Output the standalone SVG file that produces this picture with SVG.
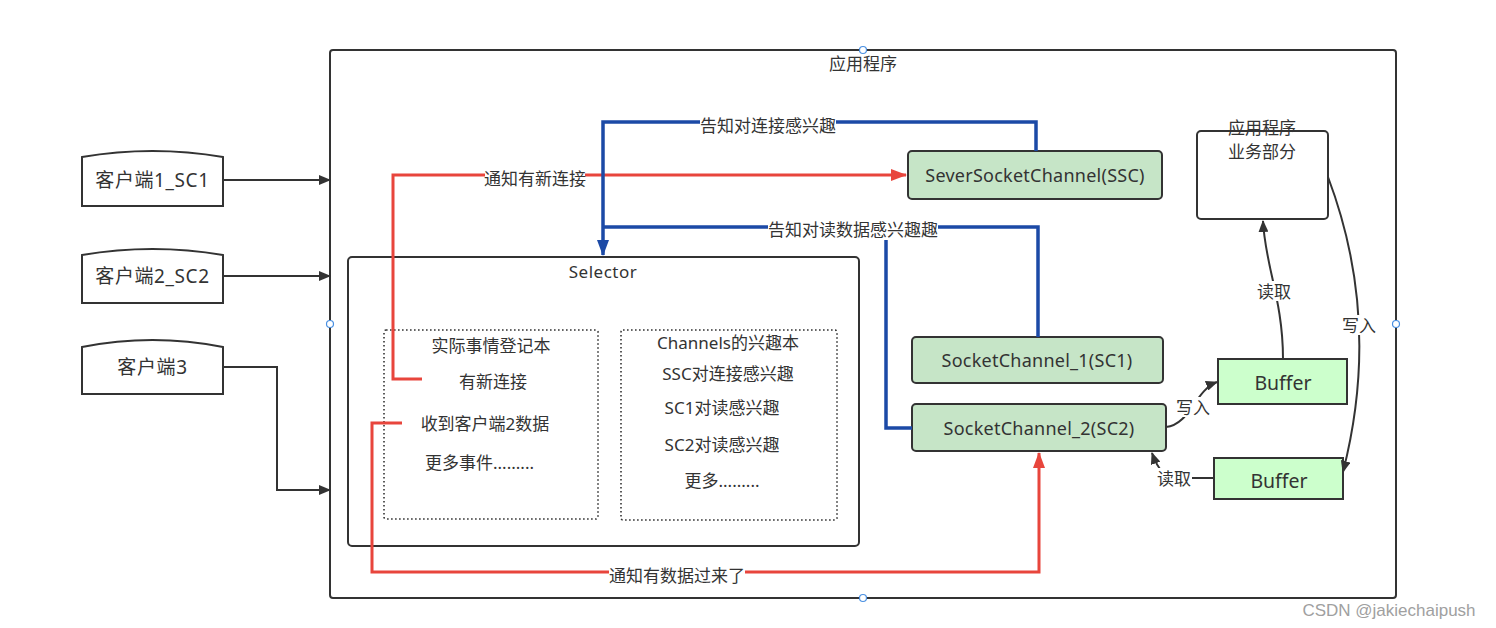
<svg xmlns="http://www.w3.org/2000/svg" width="1496" height="628" viewBox="0 0 1496 628">
<style>
text{font-family:"Noto Sans","Noto Sans CJK SC",sans-serif;fill:#333;font-size:17px;text-anchor:middle;dominant-baseline:central}
.box{fill:#fff;stroke:#333;stroke-width:2}
.ch{fill:#c6e5c7;stroke:#333;stroke-width:2}
.buf{fill:#ccffcc;stroke:#333;stroke-width:2}
.dot{fill:none;stroke:#333;stroke-width:1.6;stroke-dasharray:1.6 2.4}
.ln{fill:none;stroke:#333;stroke-width:2}
.red{fill:none;stroke:#e8453c;stroke-width:3}
.blue{fill:none;stroke:#1c4aa6;stroke-width:3.5}
.bg{fill:#fff}
.h{fill:#fff;stroke:#4a90e2;stroke-width:1.2}
.cl{font-size:19px;letter-spacing:0.6px}
.cn{font-size:18px;letter-spacing:0.25px}
.bt{font-size:19.5px}
</style>
<defs>
<marker id="ad" markerWidth="12" markerHeight="10" refX="11" refY="5" orient="auto" markerUnits="userSpaceOnUse"><path d="M0,0 L12,5 L0,10 Z" fill="#333"/></marker>
<marker id="ar" markerWidth="16" markerHeight="12" refX="15" refY="6" orient="auto" markerUnits="userSpaceOnUse"><path d="M0,0 L16,6 L0,12 Z" fill="#e8453c"/></marker>
<marker id="ab" markerWidth="16" markerHeight="12" refX="15" refY="6" orient="auto" markerUnits="userSpaceOnUse"><path d="M0,0 L16,6 L0,12 Z" fill="#1c4aa6"/></marker>
</defs>

<g id="app">
<rect class="box" x="330" y="50" width="1066" height="548" rx="3"/>
<text x="863" y="63">应用程序</text>
</g>

<g id="client1">
<path class="box" d="M82,157 Q152.5,145 223,157 L223,206 L82,206 Z"/>
<text class="cl" x="152.5" y="180">客户端1_SC1</text>
</g>
<g id="client2">
<path class="box" d="M82,255 Q152.5,243 223,255 L223,303 L82,303 Z"/>
<text class="cl" x="152.5" y="276">客户端2_SC2</text>
</g>
<g id="client3">
<path class="box" d="M82,347 Q152.5,333 223,347 L223,394 L82,394 Z"/>
<text class="cl" x="152.5" y="367">客户端3</text>
</g>

<g id="selector">
<rect class="box" x="348" y="257" width="511" height="289" rx="4"/>
<text x="603" y="271" font-size="18" letter-spacing="0.5">Selector</text>
</g>
<g id="events">
<rect class="dot" x="384" y="330" width="214" height="189" rx="2"/>
<text x="491" y="345">实际事情登记本</text>
<text x="493" y="381">有新连接</text>
<text x="485" y="423">收到客户端2数据</text>
<text x="425" y="462" style="text-anchor:start">更多事件.........</text>
</g>
<g id="interests">
<rect class="dot" x="621" y="330" width="216" height="190" rx="2"/>
<text x="728" y="342">Channels的兴趣本</text>
<text x="728" y="373">SSC对连接感兴趣</text>
<text x="722" y="407">SC1对读感兴趣</text>
<text x="722" y="444">SC2对读感兴趣</text>
<text x="722" y="480">更多.........</text>
</g>

<g id="ssc">
<rect class="ch" x="908" y="151" width="254" height="48" rx="4"/>
<text class="cn" x="1035" y="175">SeverSocketChannel(SSC)</text>
</g>
<g id="sc1">
<rect class="ch" x="912" y="337" width="251" height="46" rx="4"/>
<text class="cn" x="1037" y="360">SocketChannel_1(SC1)</text>
</g>
<g id="sc2">
<rect class="ch" x="912" y="404" width="254" height="47" rx="4"/>
<text class="cn" x="1039" y="428">SocketChannel_2(SC2)</text>
</g>

<g id="business">
<rect class="box" x="1197" y="131" width="131" height="88" rx="4"/>
<text x="1262" y="127" font-size="18">应用程序</text>
<text x="1262" y="151" font-size="18">业务部分</text>
</g>
<g id="buffer1">
<rect class="buf" x="1218" y="359" width="129" height="45"/>
<text class="bt" x="1283" y="382">Buffer</text>
</g>
<g id="buffer2">
<rect class="buf" x="1214" y="458" width="129" height="41"/>
<text class="bt" x="1279" y="480">Buffer</text>
</g>

<g id="connectors">
<path class="ln" d="M223,180 L330,180" marker-end="url(#ad)"/>
<path class="ln" d="M223,276 L330,276" marker-end="url(#ad)"/>
<path class="ln" d="M223,367 L277,367 L277,490 L330,490" marker-end="url(#ad)"/>

<path class="red" d="M422,379 L393,379 L393,175 L906,175" marker-end="url(#ar)"/>
<path class="red" d="M402,423 L372,423 L372,572 L1039,572 L1039,453" marker-end="url(#ar)"/>

<path class="blue" d="M1036,151 L1036,122 L603,122 L603,255" marker-end="url(#ab)"/>
<path class="blue" d="M1038,337 L1038,227 L603,227"/>
<path class="blue" d="M912,428 L886,428 L886,227"/>

<path class="ln" d="M1283,359 C1283,300 1265,265 1263,221" marker-end="url(#ad)"/>
<path class="ln" d="M1328,177 Q1382,320 1343,472" marker-end="url(#ad)"/>
<path class="ln" d="M1166,427 C1190,425 1195,390 1217,382" marker-end="url(#ad)"/>
<path class="ln" d="M1214,478 L1180,478 C1165,478 1158,470 1152,453" marker-end="url(#ad)"/>

<rect class="bg" x="485" y="166" width="100" height="22"/>
<text x="535" y="178">通知有新连接</text>
<rect class="bg" x="700" y="114" width="136" height="22"/>
<text x="768" y="125">告知对连接感兴趣</text>
<rect class="bg" x="768" y="218" width="170" height="22"/>
<text x="853" y="229">告知对读数据感兴趣趣</text>
<rect class="bg" x="609" y="564" width="136" height="22"/>
<text x="677" y="575">通知有数据过来了</text>
<rect class="bg" x="1256" y="281" width="36" height="20"/>
<text x="1274" y="291" font-size="16">读取</text>
<rect class="bg" x="1341" y="315" width="36" height="20"/>
<text x="1359" y="325" font-size="16">写入</text>
<rect class="bg" x="1175" y="397" width="36" height="20"/>
<text x="1193" y="407" font-size="16">写入</text>
<rect class="bg" x="1156" y="468" width="36" height="20"/>
<text x="1174" y="478" font-size="16">读取</text>
</g>

<circle class="h" cx="863" cy="50" r="3.5"/>
<circle class="h" cx="330" cy="324" r="3.5"/>
<circle class="h" cx="1396" cy="324" r="3.5"/>
<circle class="h" cx="863" cy="598" r="3.5"/>

<text x="1389" y="610" font-size="15" style="fill:#a0a0a0;font-family:'Liberation Sans',sans-serif">CSDN @jakiechaipush</text>
</svg>
